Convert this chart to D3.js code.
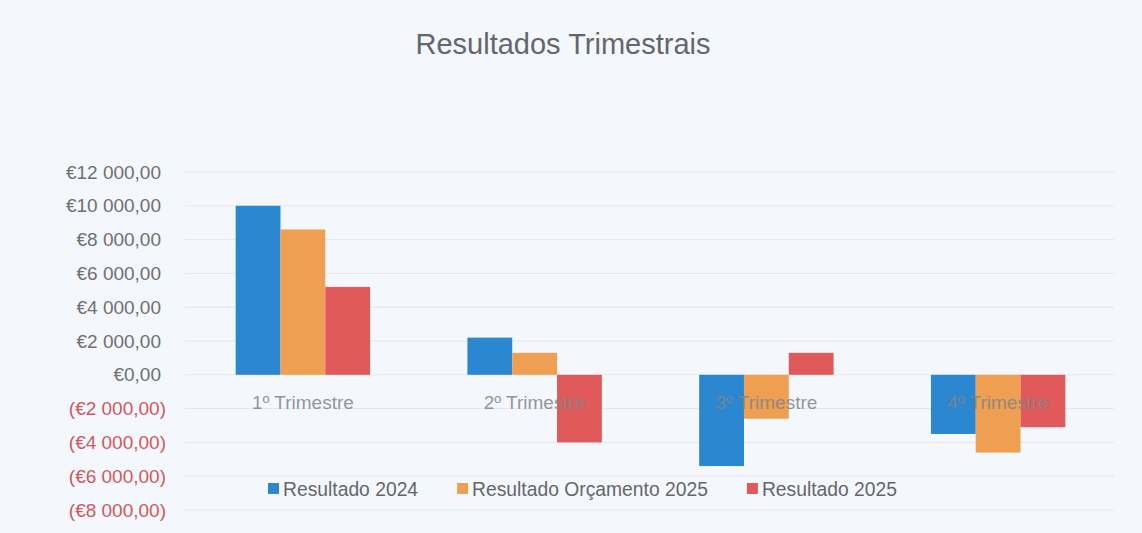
<!DOCTYPE html>
<html>
<head>
<meta charset="utf-8">
<script src="https://cdn.jsdelivr.net/npm/d3@7"></script>
<style>
  html, body { margin: 0; padding: 0; background: #f4f7fb; }
  svg { display: block; }
  text { font-family: "Liberation Sans", Arial, sans-serif; }
</style>
</head>
<body>
<svg id="chart" width="1142" height="533"></svg>
<script>
// ---- data ----
const title = "Resultados Trimestrais";
const categories = ["1º Trimestre", "2º Trimestre", "3º Trimestre", "4º Trimestre"];
const seriesNames = ["Resultado 2024", "Resultado Orçamento 2025", "Resultado 2025"];
const resultado2024 = [10000, 2200, -5400, -3500];
const orcamento2025 = [8600, 1300, -2600, -4600];
const resultado2025 = [5200, -4000, 1300, -3100];
const yTicks = [12000, 10000, 8000, 6000, 4000, 2000, 0, -2000, -4000, -6000, -8000];
const colors = ["#2b87cf", "#ee9f51", "#e05a5b"];

const seriesValues = [resultado2024, orcamento2025, resultado2025];

// ---- layout ----
const W = 1142, H = 533;
const plot = { left: 187, right: 1114, top: 172, bottom: 510 };

const svg = d3.select("#chart");
svg.append("rect").attr("width", W).attr("height", H).attr("fill", "#f4f7fb");

const x0 = d3.scaleBand().domain(categories).range([plot.left, plot.right])
  .paddingInner(0.42).paddingOuter(0.21);
const x1 = d3.scaleBand().domain(d3.range(seriesNames.length)).range([0, x0.bandwidth()]).padding(0);
const y = d3.scaleLinear().domain([-8000, 12000]).range([plot.bottom, plot.top]);

// number format: €12 000,00 / (€2 000,00)
const fmtNum = v => {
  const s = d3.format(",.2f")(Math.abs(v)).replace(/,/g, " ").replace(".", ",");
  return v < 0 ? "(€" + s + ")" : "€" + s;
};

// gridlines
svg.append("g")
  .selectAll("line").data(yTicks).join("line")
  .attr("x1", plot.left - 2).attr("x2", plot.right)
  .attr("y1", d => y(d)).attr("y2", d => y(d))
  .attr("stroke", "#e3e7ee").attr("stroke-width", 1);

// y axis labels
const yAxis = d3.axisLeft(y).tickValues(yTicks).tickSize(0).tickPadding(0).tickFormat(fmtNum);
const yg = svg.append("g").attr("transform", `translate(166,0)`).call(yAxis);
yg.select(".domain").remove();
yg.selectAll("text")
  .attr("font-family", "'Liberation Sans', Arial, sans-serif")
  .attr("font-size", 19)
  .attr("fill", d => d < 0 ? "#d0585d" : "#707070")
  .attr("dx", d => d < 0 ? 0 : -5);

// bars
const groups = svg.append("g").selectAll("g").data(categories).join("g")
  .attr("transform", d => `translate(${x0(d)},0)`);
groups.selectAll("rect")
  .data((c, i) => seriesValues.map((vals, s) => ({ s, v: vals[i] })))
  .join("rect")
  .attr("x", d => x1(d.s))
  .attr("width", x1.bandwidth())
  .attr("y", d => y(Math.max(0, d.v)))
  .attr("height", d => Math.abs(y(d.v) - y(0)))
  .attr("fill", d => colors[d.s]);

// category labels (next to axis)
const xAxis = d3.axisBottom(x0).tickSize(0).tickPadding(0);
const xg = svg.append("g").attr("transform", `translate(0,${y(0) + 34})`).call(xAxis);
xg.select(".domain").remove();
xg.selectAll("text")
  .attr("font-family", "'Liberation Sans', Arial, sans-serif")
  .attr("font-size", 19)
  .attr("fill", "#80848a")
  .attr("fill-opacity", 0.85)
  .attr("dy", 0);

// title
svg.append("text")
  .attr("x", 563).attr("y", 54)
  .attr("text-anchor", "middle")
  .attr("font-size", 29)
  .attr("fill", "#63676c")
  .text(title);

// legend
const legend = svg.append("g").attr("transform", "translate(268,0)");
let lx = 0;
seriesNames.forEach((name, i) => {
  const g = legend.append("g").attr("transform", `translate(${lx},0)`);
  g.append("rect").attr("x", 0).attr("y", 483).attr("width", 11).attr("height", 11).attr("fill", colors[i]);
  const t = g.append("text").attr("x", 15).attr("y", 496)
    .attr("font-size", 19.3).attr("fill", "#63676c").text(name);
  lx += 15 + t.node().getComputedTextLength() + 39;
});
</script>
</body>
</html>
